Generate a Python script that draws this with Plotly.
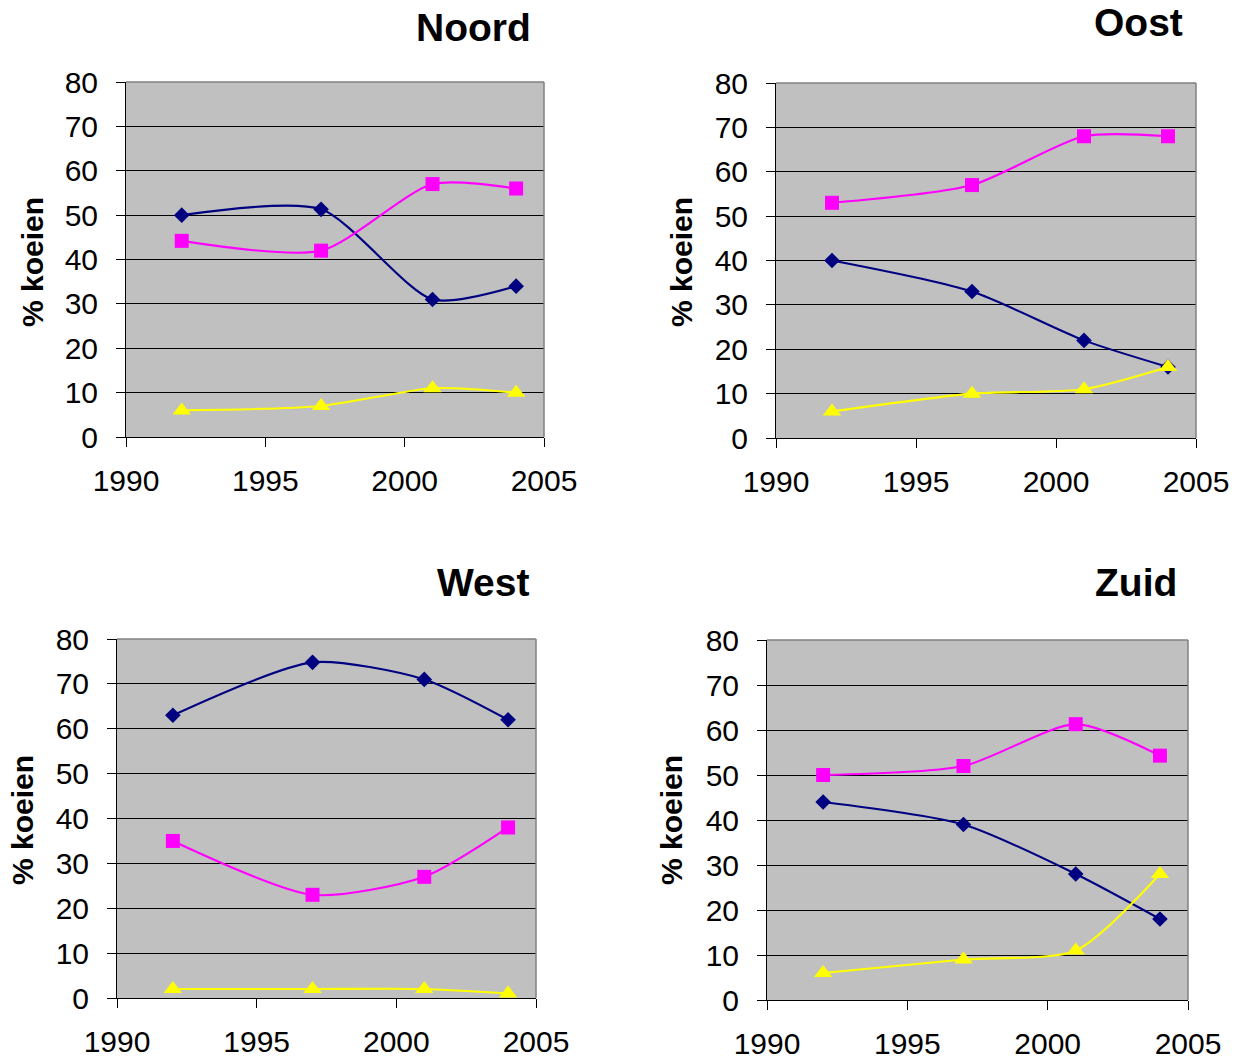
import plotly.graph_objects as go

years = [1992, 1997, 2001, 2004]
regions = ["Noord", "Oost", "West", "Zuid"]

noord_blue = [50, 51.3, 31, 34]
noord_magenta = [44.2, 42, 57, 56]
noord_yellow = [6, 7, 11, 10]

oost_blue = [40, 33, 22, 16]
oost_magenta = [53, 57, 68, 68]
oost_yellow = [6, 10, 11, 16]

west_blue = [63, 74.8, 71, 62]
west_magenta = [35, 23, 27, 38]
west_yellow = [2, 2, 2, 1]

zuid_blue = [44, 39, 28, 18]
zuid_magenta = [50, 52, 61.3, 54.3]
zuid_yellow = [6, 9, 11, 28]

x_ticks = [1990, 1995, 2000, 2005]
y_ticks = [0, 10, 20, 30, 40, 50, 60, 70, 80]
y_title = "% koeien"

data = {
    "Noord": (noord_blue, noord_magenta, noord_yellow),
    "Oost": (oost_blue, oost_magenta, oost_yellow),
    "West": (west_blue, west_magenta, west_yellow),
    "Zuid": (zuid_blue, zuid_magenta, zuid_yellow),
}

W, H = 1242, 1059
# plot area boxes in pixels: left, right, top, bottom
boxes = {
    "Noord": (126, 544, 82, 437),
    "Oost": (776, 1196, 83, 438),
    "West": (117, 536, 639, 998),
    "Zuid": (767, 1188, 640, 1000),
}
title_pos = {
    "Noord": (533, 27),
    "Oost": (1185, 23),
    "West": (531, 582),
    "Zuid": (1179, 582),
}
ytitle_pos = {
    "Noord": (32, 262),
    "Oost": (681, 262),
    "West": (22, 820),
    "Zuid": (671, 820),
}

styles = [
    dict(color="#000080", symbol="diamond", size=12),
    dict(color="#FF00FF", symbol="square", size=14),
    dict(color="#FFFF00", symbol="triangle-up", size=16),
]

FONT = "Liberation Sans, Arial, sans-serif"
fig = go.Figure()
shapes = []
annotations = []

for i, reg in enumerate(regions):
    n = "" if i == 0 else str(i + 1)
    xa, ya = "x" + n, "y" + n
    l, r, t, b = boxes[reg]
    for vals, st in zip(data[reg], styles):
        fig.add_trace(go.Scatter(
            x=years, y=vals, xaxis=xa, yaxis=ya, mode="lines+markers",
            line=dict(color=st["color"], width=2.1, shape="spline", smoothing=0.7),
            marker=dict(color=st["color"], symbol=st["symbol"], size=st["size"]),
            showlegend=False, cliponaxis=False,
        ))
    fig.update_layout(**{
        "xaxis" + n: dict(
            domain=[l / W, r / W], anchor=ya, range=[1990, 2005],
            tickvals=x_ticks, ticks="outside", ticklen=9, tickcolor="black",
            showgrid=False, zeroline=False, showline=True, linecolor="black",
            linewidth=1, tickfont=dict(family=FONT, size=30, color="black"),
            ticklabelstandoff=8, fixedrange=True, automargin=False,
        ),
        "yaxis" + n: dict(
            domain=[1 - b / H, 1 - t / H], anchor=xa, range=[0, 80],
            tickvals=y_ticks, ticks="outside", ticklen=9, tickcolor="black",
            showgrid=True, gridcolor="black", gridwidth=1, zeroline=False,
            showline=True, linecolor="black", linewidth=1,
            tickfont=dict(family=FONT, size=30, color="black"),
            ticklabelstandoff=12, fixedrange=True, automargin=False,
        ),
    })
    shapes.append(dict(type="line", xref="paper", yref="paper",
                       x0=l / W, x1=r / W, y0=1 - t / H, y1=1 - t / H,
                       line=dict(color="#808080", width=1.5), layer="above"))
    shapes.append(dict(type="line", xref="paper", yref="paper",
                       x0=r / W, x1=r / W, y0=1 - t / H, y1=1 - b / H,
                       line=dict(color="#808080", width=1.5), layer="above"))
    tx, ty = title_pos[reg]
    annotations.append(dict(text="<b>" + reg + "</b>", xref="paper", yref="paper",
                            x=tx / W, y=1 - ty / H, xanchor="right", yanchor="middle",
                            showarrow=False, font=dict(family=FONT, size=39, color="black")))
    yx, yy = ytitle_pos[reg]
    annotations.append(dict(text="<b>" + y_title + "</b>", xref="paper", yref="paper",
                            x=yx / W, y=1 - yy / H, xanchor="center", yanchor="middle",
                            textangle=-90, showarrow=False,
                            font=dict(family=FONT, size=30, color="black")))

fig.update_layout(
    width=W, height=H,
    margin=dict(l=0, r=0, t=0, b=0, pad=0, autoexpand=False),
    paper_bgcolor="white", plot_bgcolor="#C0C0C0",
    shapes=shapes, annotations=annotations,
)

fig.write_html("out.html")
